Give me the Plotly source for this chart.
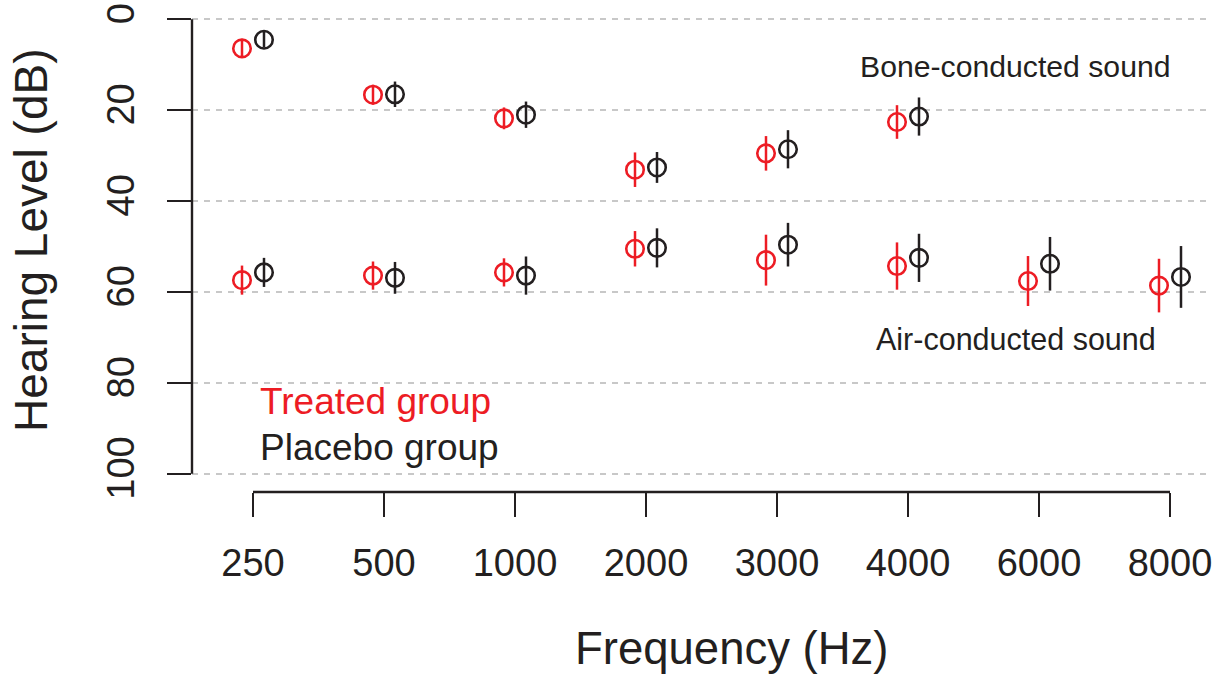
import plotly.graph_objects as go

# ---------------- data ----------------
frequencies = ["250", "500", "1000", "2000", "3000", "4000", "6000", "8000"]
bone_frequencies = ["250", "500", "1000", "2000", "3000", "4000"]

bone_treated = [6.4, 16.6, 21.8, 33.1, 29.5, 22.6]
bone_treated_err = [2.1, 2.2, 2.4, 3.8, 3.8, 3.7]
bone_placebo = [4.5, 16.5, 21.0, 32.6, 28.6, 21.4]
bone_placebo_err = [1.7, 2.8, 2.9, 3.4, 4.2, 4.2]

air_treated = [57.4, 56.4, 55.7, 50.5, 53.0, 54.3, 57.6, 58.6]
air_treated_err = [3.2, 3.1, 3.1, 3.9, 5.6, 5.2, 5.5, 5.9]
air_placebo = [55.7, 56.9, 56.4, 50.3, 49.6, 52.5, 53.8, 56.7]
air_placebo_err = [3.2, 3.5, 4.2, 4.3, 4.8, 5.3, 5.9, 6.8]

y_ticks = [0, 20, 40, 60, 80, 100]

# ---------------- style ----------------
RED = "#ED1C24"
BLACK = "#231F20"
GRID = "#C8C8C8"
FONT = "Liberation Sans, Arial, Helvetica, sans-serif"
OFFSET = 0.084  # horizontal dodge of the two groups (category units)

W, H = 1212, 674
L, R, T, B = 192, 0, 0, 182

idx = {f: i for i, f in enumerate(frequencies)}


def xs(cats, shift):
    return [idx[c] + shift for c in cats]


fig = go.Figure()


def add(cats, vals, errs, color, shift):
    fig.add_trace(go.Scatter(
        x=xs(cats, shift), y=vals, mode="markers",
        marker=dict(symbol="circle-open", size=17.5, color=color,
                    line=dict(width=2.6, color=color)),
        error_y=dict(type="data", array=errs, symmetric=True, width=0,
                     thickness=2.5, color=color),
        showlegend=False, hoverinfo="skip",
    ))


add(bone_frequencies, bone_treated, bone_treated_err, RED, -OFFSET)
add(bone_frequencies, bone_placebo, bone_placebo_err, BLACK, OFFSET)
add(frequencies, air_treated, air_treated_err, RED, -OFFSET)
add(frequencies, air_placebo, air_placebo_err, BLACK, OFFSET)

# axis lines limited to the tick span (R style)
fig.add_shape(type="line", xref="paper", yref="y", x0=0, x1=0,
              y0=y_ticks[0], y1=y_ticks[-1], line=dict(color=BLACK, width=2.4))
fig.add_shape(type="line", xref="x", yref="paper", x0=0, x1=len(frequencies) - 1,
              y0=0, y1=0, line=dict(color=BLACK, width=2.4))

# x range so that category i sits at pixel 253 + 131*i
px0, step = 253.0, 131.0
x_lo = (L - px0) / step
x_hi = (W - R - px0) / step
# y range so that 0 dB is at pixel 19.3 and 100 dB at 473.7
py0, pstep = 19.3, 4.544
y_top = (T - py0) / pstep
y_bot = (H - B - py0) / pstep

fig.update_layout(
    width=W, height=H,
    margin=dict(l=L, r=R, t=T, b=B, pad=0),
    paper_bgcolor="white", plot_bgcolor="white",
    font=dict(family=FONT, color=BLACK),
    xaxis=dict(
        range=[x_lo, x_hi], tickmode="array",
        tickvals=list(range(len(frequencies))), ticktext=frequencies,
        ticks="outside", ticklen=24, tickwidth=2.4, tickcolor=BLACK,
        showline=False, showgrid=False, zeroline=False,
        tickfont=dict(size=38, color=BLACK, family=FONT),
        ticklabelstandoff=13, ticklabeloverflow="allow",
    ),
    yaxis=dict(
        range=[y_bot, y_top], tickmode="array", tickvals=y_ticks,
        ticktext=[str(v) for v in y_ticks],
        ticks="outside", ticklen=24, tickwidth=2.4, tickcolor=BLACK,
        showline=False, zeroline=False,
        showgrid=True, gridcolor=GRID, gridwidth=2, griddash="6px,6px",
        tickangle=-90, tickfont=dict(size=38, color=BLACK, family=FONT),
        ticklabelstandoff=18, ticklabeloverflow="allow",
    ),
)

ann = []
ann.append(dict(text="Frequency (Hz)", xref="paper", yref="paper",
                x=(732 - L) / (W - L - R), y=-(648 - (H - B)) / (H - B - T),
                xanchor="center", yanchor="middle", showarrow=False,
                font=dict(size=45.5, color=BLACK, family=FONT)))
ann.append(dict(text="Hearing Level (dB)", xref="paper", yref="paper",
                x=-(L - 31) / (W - L - R), y=1 - 240 / (H - B - T),
                xanchor="center", yanchor="middle", textangle=-90, showarrow=False,
                font=dict(size=46, color=BLACK, family=FONT)))
ann.append(dict(text="Bone-conducted sound", xref="x", yref="y",
                x=(1015 - px0) / step, y=(66 - py0) / pstep,
                xanchor="center", yanchor="middle", showarrow=False,
                font=dict(size=30.2, color=BLACK, family=FONT)))
ann.append(dict(text="Air-conducted sound", xref="x", yref="y",
                x=(1016 - px0) / step, y=(339 - py0) / pstep,
                xanchor="center", yanchor="middle", showarrow=False,
                font=dict(size=30.5, color=BLACK, family=FONT)))
ann.append(dict(text="Treated group", xref="x", yref="y",
                x=(258 - px0) / step, y=(401 - py0) / pstep,
                xanchor="left", yanchor="middle", showarrow=False,
                font=dict(size=37, color=RED, family=FONT)))
ann.append(dict(text="Placebo group", xref="x", yref="y",
                x=(258 - px0) / step, y=(447 - py0) / pstep,
                xanchor="left", yanchor="middle", showarrow=False,
                font=dict(size=37, color=BLACK, family=FONT)))
fig.update_layout(annotations=ann)

fig.write_html("out.html")
